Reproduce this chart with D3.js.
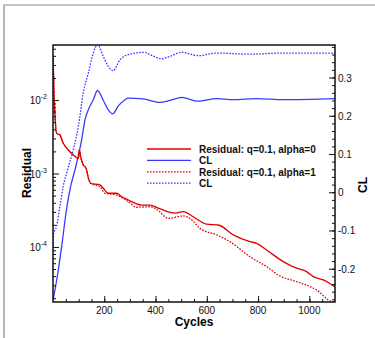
<!DOCTYPE html>
<html>
<head>
<meta charset="utf-8">
<script src="https://cdn.jsdelivr.net/npm/d3@7"></script>
<style>
  body { margin: 0; background: #fff; }
  svg { display: block; font-family: "Liberation Sans", Arial, sans-serif; }
</style>
</head>
<body>
<div id="chart"></div>
<script>
// cycles / values
const resCycles = [0, 2, 4, 5, 8, 14, 27, 40, 60, 79, 99, 103, 108, 118, 129, 138, 147, 183, 196, 216, 248, 268, 294, 320, 346, 378, 411, 476, 508, 547, 599, 645, 703, 768, 794, 833, 898, 950, 989, 1015, 1054, 1100];
const resAlpha0 = [0.0409, 0.0233, 0.0117, 0.0100, 0.00593, 0.00352, 0.00334, 0.00258, 0.00209, 0.00179, 0.00161, 0.00209, 0.00169, 0.00131, 0.00118, 0.000869, 0.000736, 0.000698, 0.000630, 0.000538, 0.000538, 0.000483, 0.000436, 0.000394, 0.000372, 0.000372, 0.000337, 0.000288, 0.000302, 0.000258, 0.000204, 0.000199, 0.000146, 0.000118, 0.000112, 0.0000910, 0.0000631, 0.0000513, 0.0000461, 0.0000394, 0.0000356, 0.0000286];

const res1Cycles = [0, 2, 4, 5, 8, 14, 27, 40, 60, 79, 99, 103, 108, 118, 129, 138, 147, 183, 203, 248, 294, 326, 378, 404, 450, 508, 534, 573, 638, 690, 768, 833, 885, 950, 1028, 1087, 1100];
const resAlpha1 = [0.0409, 0.0233, 0.0117, 0.0100, 0.00593, 0.00352, 0.00334, 0.00258, 0.00209, 0.00179, 0.00161, 0.00209, 0.00169, 0.00131, 0.00118, 0.000869, 0.000736, 0.000661, 0.000538, 0.000509, 0.000413, 0.000347, 0.000353, 0.000326, 0.000245, 0.000264, 0.000245, 0.000179, 0.000146, 0.000118, 0.0000738, 0.0000540, 0.0000403, 0.0000337, 0.0000260, 0.0000180, 0.0000178];

const clCycles = [1, 17, 34, 51, 69, 86, 112, 125, 138, 157, 174, 195, 215, 233, 254, 281, 293, 351, 417, 456, 502, 566, 638, 702, 794, 897, 1100];
const clAlpha0 = [-0.28, -0.219, -0.141, -0.053, 0.016, 0.059, 0.138, 0.19, 0.216, 0.242, 0.266, 0.242, 0.216, 0.205, 0.225, 0.242, 0.246, 0.244, 0.235, 0.240, 0.248, 0.238, 0.245, 0.242, 0.245, 0.242, 0.245];

const cl1Cycles = [0, 2, 14, 27, 40, 55, 79, 99, 118, 138, 157, 174, 196, 216, 235, 261, 294, 359, 378, 424, 456, 502, 567, 638, 768, 897, 1100];
const clAlpha1 = [-0.142, -0.11, -0.089, -0.037, 0.016, 0.054, 0.111, 0.172, 0.26, 0.312, 0.364, 0.386, 0.355, 0.329, 0.318, 0.346, 0.36, 0.366, 0.36, 0.349, 0.355, 0.366, 0.357, 0.364, 0.361, 0.364, 0.364];

const xTicks = [200, 400, 600, 800, 1000];
const resTicks = [1e-4, 1e-3, 1e-2];
const clTicks = [-0.2, -0.1, 0, 0.1, 0.2, 0.3];
const legendLabels = ["Residual: q=0.1, alpha=0", "CL", "Residual: q=0.1, alpha=1", "CL"];

const W = 375, H = 338;
const plot = { left: 53, top: 45, right: 335, bottom: 302 };
const RED = "#e00000", BLUE = "#3a3aff";

const svg = d3.select("#chart").append("svg").attr("width", W).attr("height", H);

// outer frame (only top/left visible)
svg.append("path").attr("d", `M4,${H} L4,5 L${W},5`)
  .attr("fill", "none").attr("stroke", "#8a8a8a").attr("stroke-width", 1.2);

const x = d3.scaleLinear().domain([0, 1100]).range([plot.left, plot.right]);
const yRes = d3.scaleLog().domain([Math.pow(10, -4.75), Math.pow(10, -1.25)]).range([plot.bottom, plot.top]);
const yCL = d3.scaleLinear().domain([-0.287, 0.385]).range([plot.bottom, plot.top]);

svg.append("clipPath").attr("id", "clip").append("rect")
  .attr("x", plot.left).attr("y", plot.top)
  .attr("width", plot.right - plot.left).attr("height", plot.bottom - plot.top);

const g = svg.append("g").attr("clip-path", "url(#clip)");

function addLine(xs, ys, yScale, color, dashed) {
  const line = d3.line().x(d => x(d[0])).y(d => yScale(d[1])).curve(d3.curveMonotoneX);
  g.append("path").datum(xs.map((c, i) => [c, ys[i]]))
    .attr("d", line).attr("fill", "none")
    .attr("stroke", color).attr("stroke-width", 1.3)
    .attr("stroke-dasharray", dashed ? "1.6,1.4" : null);
}

addLine(cl1Cycles, clAlpha1, yCL, BLUE, true);
addLine(clCycles, clAlpha0, yCL, BLUE, false);
addLine(res1Cycles, resAlpha1, yRes, RED, true);
addLine(resCycles, resAlpha0, yRes, RED, false);

// axes
const axisColor = "#111";
const bottom = svg.append("g").attr("transform", `translate(0,${plot.bottom})`);
bottom.append("g").call(d3.axisTop(x).tickValues(d3.range(50, 1100, 50)).tickSize(3).tickFormat(""));
bottom.append("g").call(d3.axisTop(x).tickValues(xTicks).tickSize(6).tickFormat(""));
bottom.selectAll("path").remove();
bottom.selectAll("line").attr("stroke", axisColor);
bottom.selectAll(".xl").data(xTicks).join("text")
  .attr("x", d => x(d)).attr("y", 12).attr("text-anchor", "middle")
  .attr("font-size", 10).attr("fill", "#111").text(d => d);

// left log axis
const left = svg.append("g").attr("transform", `translate(${plot.left},0)`);
const minorRes = [];
for (let e = -5; e <= -1; e++) for (let m = 2; m <= 9; m++) {
  const v = m * Math.pow(10, e);
  if (v > yRes.domain()[0] && v < yRes.domain()[1]) minorRes.push(v);
}
left.append("g").call(d3.axisRight(yRes).tickValues(minorRes).tickSize(3).tickFormat(""));
left.append("g").call(d3.axisRight(yRes).tickValues(resTicks).tickSize(6).tickFormat(""));
left.selectAll("path").remove();
left.selectAll("line").attr("stroke", axisColor);
resTicks.forEach(v => {
  const t = left.append("text").attr("x", -6).attr("y", yRes(v) + 4)
    .attr("text-anchor", "end").attr("font-size", 10).attr("fill", "#111");
  t.append("tspan").text("10");
  t.append("tspan").attr("dy", -5).attr("font-size", 7).text("-" + Math.round(-Math.log10(v)));
});

// right CL axis
const right = svg.append("g").attr("transform", `translate(${plot.right},0)`);
right.append("g").call(d3.axisLeft(yCL).tickValues(d3.range(-28, 39, 2).map(d => d / 100)).tickSize(3).tickFormat(""));
right.append("g").call(d3.axisLeft(yCL).tickValues(clTicks).tickSize(6).tickFormat(""));
right.selectAll("path").remove();
right.selectAll("line").attr("stroke", axisColor);
right.selectAll(".cl").data(clTicks).join("text")
  .attr("x", 3).attr("y", d => yCL(d) + 4)
  .attr("font-size", 10).attr("fill", "#111").text(d => String(d));

// plot frame
svg.append("rect").attr("x", plot.left).attr("y", plot.top)
  .attr("width", plot.right - plot.left).attr("height", plot.bottom - plot.top)
  .attr("fill", "none").attr("stroke", axisColor).attr("stroke-width", 1.5);

// axis titles
svg.append("text").attr("x", (plot.left + plot.right) / 2).attr("y", 326)
  .attr("text-anchor", "middle").attr("font-weight", "bold").attr("font-size", 12).text("Cycles");
svg.append("text").attr("transform", "translate(31,173) rotate(-90)")
  .attr("text-anchor", "middle").attr("font-weight", "bold").attr("font-size", 12).text("Residual");
svg.append("text").attr("transform", "translate(367,185) rotate(-90)")
  .attr("text-anchor", "middle").attr("font-weight", "bold").attr("font-size", 12).text("CL");

// legend
const legendStyle = [[RED, false], [BLUE, false], [RED, true], [BLUE, true]];
const lg = svg.append("g");
legendLabels.forEach((lab, i) => {
  const yy = 149 + i * 11.4;
  lg.append("line").attr("x1", 147).attr("x2", 191).attr("y1", yy).attr("y2", yy)
    .attr("stroke", legendStyle[i][0]).attr("stroke-width", 1.3)
    .attr("stroke-dasharray", legendStyle[i][1] ? "1.6,1.4" : null);
  lg.append("text").attr("x", 199).attr("y", yy + 4)
    .attr("font-size", 10).attr("font-weight", "bold").attr("fill", "#111").text(lab);
});
</script>
</body>
</html>
